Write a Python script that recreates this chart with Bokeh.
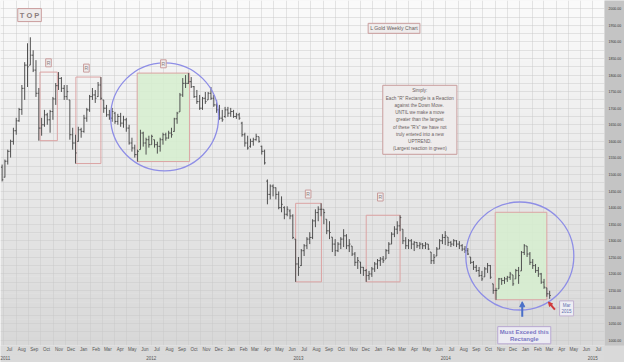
import datetime as dt
from bokeh.plotting import figure
from bokeh.models import (ColumnDataSource, Range1d, DatetimeAxis, FixedTicker, DatetimeTickFormatter,
                          NumeralTickFormatter, SingleIntervalTicker, MonthsTicker, Label, Arrow,
                          NormalHead, BoxAnnotation)
from bokeh.embed import file_html
from bokeh.resources import INLINE

# ---------------- data (weekly OHLC) ----------------
first_week = dt.datetime(2011, 6, 27)
n_weeks = 195

high = [1530,1545,1575,1605,1641,1671,1701,1770,1839,1896,
        1914,1875,1845,1761,1671,1695,1686,1695,1734,1776,
        1809,1794,1770,1770,1725,1641,1620,1644,1641,1680,
        1701,1740,1761,1755,1779,1794,1725,1710,1695,1701,
        1689,1683,1686,1677,1671,1650,1611,1590,1575,1635,
        1629,1611,1617,1620,1605,1599,1611,1626,1626,1632,
        1641,1671,1689,1746,1791,1800,1806,1794,1767,1755,
        1740,1734,1749,1749,1764,1740,1725,1710,1695,1704,
        1704,1701,1695,1686,1686,1659,1626,1617,1608,1611,
        1623,1614,1587,1575,1485,1470,1470,1461,1449,1434,
        1404,1404,1395,1380,1305,1251,1275,1290,1311,1326,
        1365,1395,1404,1413,1395,1365,1359,1311,1305,1296,
        1311,1335,1320,1305,1284,1266,1251,1236,1221,1215,
        1209,1221,1236,1245,1251,1254,1275,1296,1326,1344,
        1359,1377,1335,1311,1305,1305,1299,1296,1296,1293,
        1296,1290,1266,1260,1281,1305,1320,1329,1311,1299,
        1305,1302,1299,1290,1284,1278,1251,1239,1227,1221,
        1209,1221,1233,1227,1170,1158,1188,1188,1191,1194,
        1206,1197,1215,1221,1269,1290,1284,1266,1245,1230,
        1221,1203,1185,1158,1149]
low = [1479,1491,1530,1551,1590,1620,1659,1680,1725,1764,
       1830,1809,1734,1602,1617,1644,1650,1626,1665,1710,
       1755,1749,1725,1725,1605,1575,1533,1599,1611,1626,
       1659,1689,1725,1716,1734,1725,1686,1674,1665,1659,
       1653,1650,1644,1641,1629,1590,1569,1551,1539,1575,
       1584,1560,1581,1590,1581,1563,1569,1590,1602,1608,
       1611,1629,1653,1689,1734,1761,1773,1761,1731,1713,
       1695,1695,1713,1725,1725,1704,1686,1665,1659,1671,
       1674,1674,1671,1668,1665,1614,1584,1575,1581,1587,
       1602,1596,1560,1530,1410,1425,1434,1425,1395,1386,
       1365,1374,1365,1305,1176,1194,1224,1254,1275,1290,
       1305,1341,1359,1374,1350,1320,1305,1266,1254,1266,
       1275,1281,1275,1266,1254,1224,1215,1200,1194,1176,
       1182,1191,1206,1215,1224,1233,1245,1260,1290,1311,
       1320,1329,1290,1275,1275,1275,1269,1278,1275,1275,
       1275,1272,1230,1230,1254,1275,1290,1287,1284,1281,
       1284,1281,1275,1269,1263,1257,1230,1212,1206,1191,
       1179,1191,1203,1185,1140,1122,1155,1167,1170,1176,
       1182,1164,1185,1170,1209,1257,1251,1227,1215,1203,
       1191,1170,1155,1131,1125]
open_ = [1522,1492,1540,1570,1600,1632,1662,1696,1760,1830,
         1830,1860,1815,1745,1640,1650,1680,1665,1690,1728,
         1768,1790,1760,1735,1725,1620,1595,1600,1635,1630,
         1670,1695,1735,1740,1735,1770,1725,1700,1680,1670,
         1685,1660,1675,1655,1665,1640,1595,1580,1560,1575,
         1625,1595,1605,1590,1605,1590,1585,1605,1620,1610,
         1625,1630,1668,1689,1740,1775,1775,1780,1765,1735,
         1720,1700,1730,1725,1745,1730,1710,1695,1670,1675,
         1695,1685,1690,1675,1680,1655,1620,1595,1585,1600,
         1605,1614,1585,1570,1480,1440,1465,1460,1440,1400,
         1400,1380,1390,1375,1305,1230,1225,1270,1285,1305,
         1310,1360,1385,1395,1395,1365,1330,1311,1290,1270,
         1290,1305,1315,1285,1284,1260,1235,1236,1220,1210,
         1195,1200,1215,1230,1240,1245,1245,1270,1290,1320,
         1335,1345,1335,1300,1285,1300,1290,1295,1285,1290,
         1285,1290,1266,1240,1254,1275,1300,1310,1311,1295,
         1290,1300,1290,1285,1275,1270,1251,1235,1220,1210,
         1195,1191,1215,1225,1170,1150,1155,1185,1180,1185,
         1190,1197,1185,1210,1209,1265,1284,1260,1235,1225,
         1210,1200,1175,1158,1140]
close = [1484,1540,1570,1600,1632,1662,1696,1760,1830,1825,
         1860,1815,1745,1640,1650,1680,1665,1690,1728,1768,
         1790,1760,1735,1750,1620,1595,1565,1635,1630,1670,
         1695,1735,1740,1730,1770,1730,1700,1680,1670,1690,
         1660,1675,1655,1665,1640,1595,1580,1560,1570,1625,
         1595,1605,1590,1615,1590,1585,1605,1620,1610,1625,
         1620,1668,1685,1740,1775,1775,1780,1765,1735,1720,
         1700,1730,1720,1745,1730,1710,1695,1670,1665,1695,
         1685,1690,1675,1680,1670,1620,1595,1580,1600,1605,
         1615,1600,1570,1535,1440,1465,1460,1440,1400,1410,
         1380,1395,1375,1310,1230,1220,1270,1285,1305,1310,
         1360,1385,1395,1395,1385,1330,1325,1290,1270,1290,
         1305,1315,1285,1290,1260,1235,1240,1220,1210,1195,
         1200,1215,1230,1240,1245,1240,1270,1290,1320,1335,
         1345,1370,1300,1285,1300,1290,1295,1285,1290,1285,
         1290,1275,1240,1250,1275,1300,1310,1315,1295,1290,
         1300,1290,1285,1275,1270,1260,1235,1220,1210,1195,
         1185,1215,1225,1190,1150,1150,1185,1180,1185,1190,
         1200,1170,1210,1195,1265,1285,1260,1235,1225,1210,
         1200,1175,1160,1140,1135]

# reaction rectangles ("R" boxes) and the two green "largest reaction" boxes
box_left = ["2011-09-29", "2011-12-27", "2012-05-27", "2013-06-24", "2013-12-16", "2014-11-01"]
box_right = ["2011-11-11", "2012-02-27", "2012-10-04", "2013-08-27", "2014-03-10", "2015-03-09"]
box_bottom = [1602, 1533, 1539, 1176, 1176, 1122]
box_top = [1809, 1794, 1806, 1413, 1377, 1386]
box_green = [False, False, True, False, False, True]

r_label_dates = ["2011-10-20", "2012-01-22", "2012-07-31", "2013-07-25", "2014-01-20"]
r_label_prices = [1837, 1821, 1834, 1441, 1432]

circle_dates = ["2012-08-03", "2015-01-01"]
circle_prices = [1674, 1254]

note_lines = ["Simply:", 'Each "R" Rectangle is a Reaction', "against  the Down Move.",
              "UNTIL we make a move", "greater than the largest", 'of these "R\'s" we have not',
              "truly entered into a new", "UPTREND.", "(Largest reaction in green)"]

# ---------------- helpers ----------------
EPOCH = dt.datetime(1970, 1, 1)
def d(s):
    return dt.datetime.strptime(s, "%Y-%m-%d")
def ms(x):
    return (x - EPOCH).total_seconds() * 1000.0

week_dates = [first_week + dt.timedelta(days=7 * i) for i in range(n_weeks)]
tick = dt.timedelta(days=3)

src = ColumnDataSource(dict(
    date=week_dates,
    left=[w - tick for w in week_dates],
    right=[w + tick for w in week_dates],
    open=open_, high=high, low=low, close=close))

y0, y1 = 984, 2025
p = figure(width=624, height=362, x_axis_type="datetime", y_axis_location="right",
           x_range=Range1d(ms(dt.datetime(2011, 6, 23)), ms(dt.datetime(2015, 7, 30))),
           y_range=Range1d(y0, y1), output_backend="svg", toolbar_location=None,
           min_border_left=0, min_border_top=0, min_border_right=16, min_border_bottom=14,
           background_fill_color="#efefef", border_fill_color="#d9d9d9", outline_line_color=None)

# vertical background gradient
n_bands = 40
for k in range(n_bands):
    b = y0 + k * (y1 - y0) / n_bands
    t = b + (y1 - y0) / n_bands + 0.5
    f = k / (n_bands - 1)
    g = int(round(216 + (250 - 216) * f))
    p.add_layout(BoxAnnotation(bottom=b, top=t, fill_color=(g, g, g), fill_alpha=1.0,
                               line_alpha=0, level="image"))

# grid
p.xgrid.ticker = MonthsTicker(months=list(range(1, 13)))
p.ygrid.ticker = SingleIntervalTicker(interval=25)
p.xgrid.grid_line_color = "#c8c8c8"
p.ygrid.grid_line_color = "#c8c8c8"
p.xgrid.grid_line_alpha = 0.45
p.ygrid.grid_line_alpha = 0.45

# boxes
bsrc = ColumnDataSource(dict(
    left=[d(s) for s in box_left], right=[d(s) for s in box_right],
    bottom=box_bottom, top=box_top,
    fill=["#d6efcf" if g else "#ffffff" for g in box_green],
    alpha=[0.85 if g else 0.0 for g in box_green]))
p.quad(left="left", right="right", bottom="bottom", top="top", source=bsrc,
       fill_color="fill", fill_alpha="alpha", line_color="#dba3a3", line_width=1)

# OHLC bars
bar_col = "#505050"
p.segment(x0="date", y0="low", x1="date", y1="high", source=src, line_color=bar_col, line_width=1)
p.segment(x0="left", y0="open", x1="date", y1="open", source=src, line_color=bar_col, line_width=1)
p.segment(x0="date", y0="close", x1="right", y1="close", source=src, line_color=bar_col, line_width=1)

# circles
p.scatter(x=[d(s) for s in circle_dates], y=circle_prices, marker="circle", size=108,
          fill_alpha=0, line_color="#8e8ee6", line_width=1.3)

# axes
month_ticks = []
for yy in range(2011, 2016):
    for mm in range(1, 13):
        month_ticks.append(ms(dt.datetime(yy, mm, 15)))
xa = p.xaxis[0]
xa.ticker = FixedTicker(ticks=month_ticks)
xa.formatter = DatetimeTickFormatter(days="%b", months="%b", years="%b")
year_axis = DatetimeAxis(ticker=FixedTicker(ticks=[ms(dt.datetime(yy, 7, 1)) for yy in range(2011, 2016)]),
                         formatter=DatetimeTickFormatter(days="%Y", months="%Y", years="%Y"))
p.add_layout(year_axis, "below")
for ax in (xa, year_axis, p.yaxis[0]):
    ax.axis_line_color = None
    ax.major_tick_line_color = None
    ax.minor_tick_line_color = None
    ax.major_tick_out = 0
    ax.major_tick_in = 0
    ax.minor_tick_out = 0
    ax.minor_tick_in = 0
    ax.major_label_text_font = "Liberation Sans"
for ax in (xa, year_axis):
    ax.major_label_text_font_size = "4.5px"
    ax.major_label_text_color = "#555555"
    ax.major_label_standoff = 1

ya = p.yaxis[0]
ya.ticker = SingleIntervalTicker(interval=50)
ya.formatter = NumeralTickFormatter(format="0.00")
ya.major_label_text_font_size = "3.5px"
ya.major_label_text_color = "#333333"
ya.major_label_standoff = 4
try:
    ya.background_fill_color = "#c4c4c4"
    xa.background_fill_color = "#dadada"
    year_axis.background_fill_color = "#dadada"
except Exception:
    pass

# last price marker on the price axis
p.add_layout(Label(x=610, x_units="screen", y=close[-1], text="%.2f" % close[-1],
                   text_font_size="3.5px", text_color="white", text_baseline="middle",
                   background_fill_color="#222222", padding=1))

# text boxes
box_style = dict(background_fill_color="#efecec", background_fill_alpha=1.0,
                 border_line_color="#c99d9d", border_line_width=1, text_align="center",
                 text_baseline="middle", text_font="Liberation Sans")
p.add_layout(Label(x=ms(d("2011-09-03")), y=1981, text="T O P", text_font_size="7.5px",
                   text_font_style="bold", text_color="#8a7d7d", padding=2, **box_style))
for sd, pr in zip(r_label_dates, r_label_prices):
    p.add_layout(Label(x=ms(d(sd)), y=pr, text="R", text_font_size="5px", text_color="#8a7d7d",
                       padding=1, **box_style))
p.add_layout(Label(x=ms(d("2014-02-23")), y=1941, text="L Gold Weekly Chart", text_font_size="5.2px",
                   text_color="#6a5f5f", padding=2, **box_style))
p.add_layout(Label(x=ms(d("2014-04-28")), y=1665, text="\n".join(note_lines), text_font_size="4.6px",
                   text_line_height=1.45, text_color="#6a5f5f", padding=3, **box_style))
p.add_layout(Label(x=ms(d("2015-04-27")), y=1096, text="Mar\n2015", text_font_size="4.5px",
                   text_color="#5f6fb0", padding=2, background_fill_color="#eeeef4",
                   border_line_color="#c0b0d0", text_align="center", text_baseline="middle",
                   text_font="Liberation Sans"))
p.add_layout(Label(x=ms(d("2015-01-12")), y=1015, text="Must Exceed this\nRectangle",
                   text_font_size="6px", text_font_style="bold", text_color="#7b78c4",
                   padding=2, background_fill_color="#ecebf3", border_line_color="#b8a9d2",
                   text_align="center", text_baseline="middle", text_font="Liberation Sans"))

# arrows
p.add_layout(Arrow(end=NormalHead(size=5, fill_color="#4a6fc8", line_color="#4a6fc8"),
                   x_start=ms(d("2015-01-07")), y_start=1071, x_end=ms(d("2015-01-07")), y_end=1116,
                   line_color="#4a6fc8", line_width=2))
p.add_layout(Arrow(end=NormalHead(size=4, fill_color="#d03a3a", line_color="#d03a3a"),
                   x_start=ms(d("2015-03-29")), y_start=1092, x_end=ms(d("2015-03-13")), y_end=1115,
                   line_color="#d03a3a", line_width=2))

open("out.html", "w").write(file_html(p, INLINE))
